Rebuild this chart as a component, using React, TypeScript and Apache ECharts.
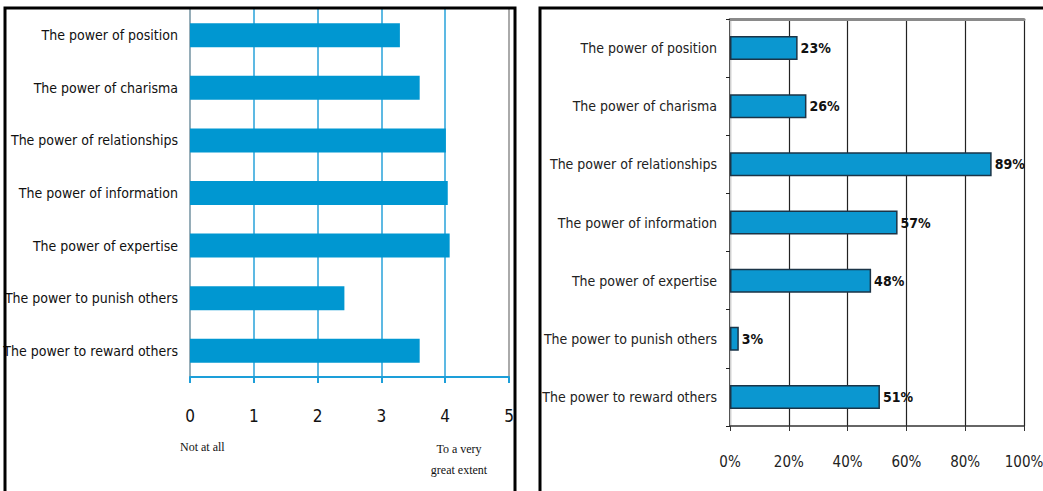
import React, { useEffect, useRef } from "react";
import * as echarts from "echarts";

const categories = [
  "The power of position",
  "The power of charisma",
  "The power of relationships",
  "The power of information",
  "The power of expertise",
  "The power to punish others",
  "The power to reward others",
];
const extentValues = [3.29, 3.6, 4.01, 4.04, 4.07, 2.42, 3.6];
const percentValues = [23, 26, 89, 57, 48, 3, 51];
const extentTicks = [0, 1, 2, 3, 4, 5];
const extentNotes = ["Not at all", "To a very\ngreat extent"];

const NARROW = '"Liberation Sans Narrow", "DejaVu Sans Condensed", "Arial Narrow", sans-serif';
const SERIF = '"Liberation Serif", "DejaVu Serif", serif';

export default function App() {
  const ref = useRef<HTMLDivElement>(null);
  useEffect(() => {
    if (!ref.current) return;
    const chart = echarts.init(ref.current, null, { renderer: "svg" });
    chart.setOption({
      animation: false,
      backgroundColor: "#ffffff",
      grid: [
        { left: 190, right: 534, top: 9, bottom: 114, containLabel: false, outerBoundsMode: "none" },
        { left: 730, right: 19, top: 19, bottom: 65, containLabel: false, outerBoundsMode: "none" },
      ],
      xAxis: [
        {
          gridIndex: 0,
          type: "value",
          min: extentTicks[0],
          max: extentTicks[extentTicks.length - 1],
          interval: 1,
          axisLine: { show: true, lineStyle: { color: "#1d9fd9", width: 2 } },
          axisTick: { show: true, length: 6, lineStyle: { color: "#1d9fd9", width: 2 } },
          axisLabel: { margin: 30, color: "#111", fontSize: 17, fontFamily: NARROW },
          splitLine: { show: true, lineStyle: { color: "#27a2da", width: 1.5 } },
        },
        {
          gridIndex: 1,
          type: "value",
          min: 0,
          max: 100,
          interval: 20,
          axisLine: { show: true, lineStyle: { color: "#333", width: 1.5 } },
          axisTick: { show: true, length: 5, lineStyle: { color: "#333" } },
          axisLabel: {
            margin: 28,
            color: "#222",
            fontSize: 15,
            fontFamily: NARROW,
            formatter: "{value}%",
          },
          splitLine: { show: true, lineStyle: { color: "#222", width: 1.2 } },
        },
        {
          gridIndex: 1,
          type: "value",
          position: "top",
          min: 0,
          max: 100,
          axisLine: { show: true, lineStyle: { color: "#8a8a8a", width: 3 } },
          axisTick: { show: false },
          axisLabel: { show: false },
          splitLine: { show: false },
        },
      ],
      yAxis: [
        {
          gridIndex: 0,
          type: "category",
          data: categories,
          inverse: true,
          axisLine: { show: true, lineStyle: { color: "#aaaaaa", width: 1.5 } },
          axisTick: { show: false },
          axisLabel: { margin: 12, color: "#111", fontSize: 14, fontFamily: NARROW },
        },
        {
          gridIndex: 0,
          type: "category",
          data: categories,
          inverse: true,
          position: "right",
          axisLine: { show: true, lineStyle: { color: "#aaaaaa", width: 2 } },
          axisTick: { show: false },
          axisLabel: { show: false },
        },
        {
          gridIndex: 1,
          type: "category",
          data: categories,
          inverse: true,
          axisLine: { show: true, lineStyle: { color: "#222", width: 1.5 } },
          axisTick: { show: true, length: 4, lineStyle: { color: "#222" } },
          axisLabel: { margin: 13, color: "#222", fontSize: 14, fontFamily: NARROW },
        },
        {
          gridIndex: 1,
          type: "category",
          data: categories,
          inverse: true,
          position: "right",
          axisLine: { show: true, lineStyle: { color: "#d0d0d0", width: 1 } },
          axisTick: { show: false },
          axisLabel: { show: false },
        },
      ],
      series: [
        {
          type: "bar",
          xAxisIndex: 0,
          yAxisIndex: 0,
          data: extentValues,
          barWidth: 24,
          itemStyle: { color: "#0097d1" },
        },
        {
          type: "bar",
          xAxisIndex: 1,
          yAxisIndex: 2,
          data: percentValues,
          barWidth: 24,
          itemStyle: { color: "#0b97d0", borderColor: "#1b3447", borderWidth: 1.5 },
          label: {
            show: true,
            position: "right",
            distance: 3,
            formatter: "{c}%",
            color: "#111",
            fontSize: 14,
            fontWeight: "bold",
            fontFamily: NARROW,
          },
        },
      ],
      graphic: [
        {
          type: "text",
          left: 180,
          top: 441,
          style: { text: extentNotes[0], font: `12px ${SERIF}`, fill: "#111" },
        },
        {
          type: "text",
          x: 459,
          y: 438,
          style: {
            text: extentNotes[1],
            font: `12px ${SERIF}`,
            fill: "#111",
            align: "center",
            lineHeight: 21,
          },
        },
        {
          type: "rect",
          shape: { x: 5, y: 8, width: 510, height: 500 },
          style: { fill: "none", stroke: "#000", lineWidth: 3 },
          z: 100,
        },
        {
          type: "rect",
          shape: { x: 540, y: 8, width: 520, height: 500 },
          style: { fill: "none", stroke: "#000", lineWidth: 3 },
          z: 100,
        },
      ],
    });
    return () => chart.dispose();
  }, []);
  return (
    <div
      ref={ref}
      style={{ position: "fixed", left: 0, top: 0, width: 1043, height: 491 }}
    />
  );
}
